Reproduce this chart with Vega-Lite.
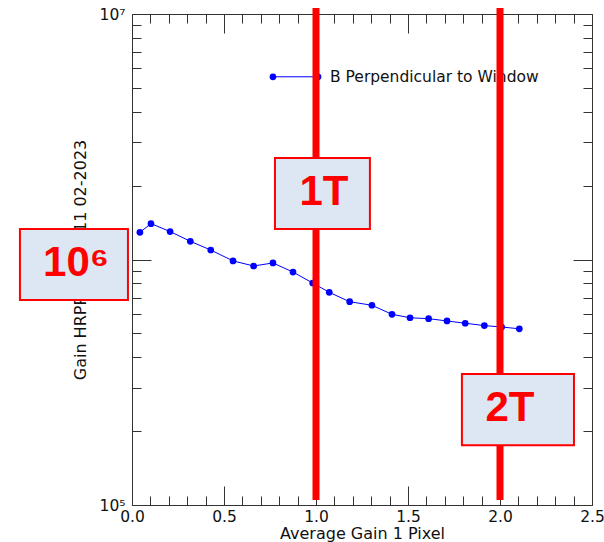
{
  "$schema": "https://vega.github.io/schema/vega-lite/v6.json",
  "width": 460,
  "height": 491,
  "autosize": {"type": "none"},
  "padding": {"left": 132, "top": 14, "right": 12, "bottom": 37},
  "background": "white",
  "config": {
    "view": {"stroke": null},
    "font": "DejaVu Sans",
    "axis": {
      "domainColor": "#333333",
      "domainWidth": 1,
      "tickColor": "#333333",
      "tickWidth": 1,
      "labelColor": "#111111",
      "titleColor": "#111111",
      "labelFont": "DejaVu Sans",
      "titleFont": "DejaVu Sans",
      "labelFontSize": 15.5,
      "titleFontSize": 16,
      "titleFontWeight": "normal",
      "grid": false,
      "labelFlush": false,
      "labelOverlap": false
    }
  },
  "datasets": {
    "gain": [
      {"x": 0.043, "y": 1290000},
      {"x": 0.103, "y": 1400000},
      {"x": 0.207, "y": 1300000},
      {"x": 0.317, "y": 1186000},
      {"x": 0.428, "y": 1093000},
      {"x": 0.549, "y": 987000},
      {"x": 0.661, "y": 941000},
      {"x": 0.766, "y": 968000},
      {"x": 0.875, "y": 889000},
      {"x": 0.982, "y": 802000},
      {"x": 1.072, "y": 735000},
      {"x": 1.183, "y": 673000},
      {"x": 1.304, "y": 651000},
      {"x": 1.413, "y": 598000},
      {"x": 1.511, "y": 579000},
      {"x": 1.612, "y": 574000},
      {"x": 1.712, "y": 562000},
      {"x": 1.811, "y": 550000},
      {"x": 1.915, "y": 538000},
      {"x": 2.009, "y": 531000},
      {"x": 2.105, "y": 522000}
    ],
    "legendKey": [
      {"x": 0.766, "y": 5550000},
      {"x": 1.011, "y": 5550000}
    ],
    "legendText": [
      {"x": 1.076, "y": 5550000, "label": "B Perpendicular to Window"}
    ],
    "field": [
      {"x": 1.0, "ylo": 104800, "yhi": 10580000},
      {"x": 2.0, "ylo": 104800, "yhi": 10580000}
    ],
    "boxes": [
      {"x1": -0.609, "x2": -0.022, "y1": 684000, "y2": 1330000},
      {"x1": 0.777, "x2": 1.293, "y1": 1330000, "y2": 2590000},
      {"x1": 1.793, "x2": 2.402, "y1": 175000, "y2": 342000}
    ],
    "boxText": [
      {"x": -0.304, "y": 966000, "label": "10⁶"},
      {"x": 1.043, "y": 1875000, "label": "1T"},
      {"x": 2.054, "y": 248000, "label": "2T"}
    ]
  },
  "layer": [
    {
      "data": {"name": "gain"},
      "mark": {"type": "line", "color": "#0000ff", "strokeWidth": 1},
      "encoding": {
        "x": {
          "field": "x", "type": "quantitative",
          "scale": {"domain": [0, 2.5], "nice": false, "zero": false},
          "axis": {
            "orient": "bottom",
            "title": "Average Gain 1 Pixel",
            "values": [0, 0.1, 0.2, 0.3, 0.4, 0.5, 0.6, 0.7, 0.8, 0.9, 1.0, 1.1, 1.2, 1.3, 1.4, 1.5, 1.6, 1.7, 1.8, 1.9, 2.0, 2.1, 2.2, 2.3, 2.4, 2.5],
            "labelExpr": "abs(datum.value*2 - round(datum.value*2)) < 1e-6 ? format(datum.value, '.1f') : ''",
            "tickSize": {"condition": {"test": "abs(datum.value*2 - round(datum.value*2)) < 1e-6", "value": -19}, "value": -9},
            "labelPadding": 23,
            "titlePadding": -9
          }
        },
        "y": {
          "field": "y", "type": "quantitative",
          "scale": {"type": "log", "domain": [100000, 10000000], "nice": false},
          "axis": {
            "orient": "left",
            "title": "Gain  HRPPD-1001  11 02-2023",
            "values": [100000, 200000, 300000, 400000, 500000, 600000, 700000, 800000, 900000, 1000000, 2000000, 3000000, 4000000, 5000000, 6000000, 7000000, 8000000, 9000000, 10000000],
            "labelExpr": "datum.value == 10000000 ? '10⁷' : datum.value == 1000000 ? '10⁶' : datum.value == 100000 ? '10⁵' : ''",
            "tickSize": {"condition": {"test": "indexof([100000, 1000000, 10000000], datum.value) >= 0", "value": -19}, "value": -9},
            "labelPadding": 26,
            "titlePadding": 11
          }
        }
      }
    },
    {
      "data": {"name": "gain"},
      "mark": {"type": "circle", "color": "#0000ff", "size": 45, "opacity": 1},
      "encoding": {
        "x": {
          "field": "x", "type": "quantitative",
          "scale": {"domain": [0, 2.5], "nice": false, "zero": false},
          "axis": {
            "orient": "top",
            "title": null,
            "labels": false,
            "values": [0, 0.1, 0.2, 0.3, 0.4, 0.5, 0.6, 0.7, 0.8, 0.9, 1.0, 1.1, 1.2, 1.3, 1.4, 1.5, 1.6, 1.7, 1.8, 1.9, 2.0, 2.1, 2.2, 2.3, 2.4, 2.5],
            "tickSize": {"condition": {"test": "abs(datum.value*2 - round(datum.value*2)) < 1e-6", "value": -19}, "value": -9}
          }
        },
        "y": {
          "field": "y", "type": "quantitative",
          "scale": {"type": "log", "domain": [100000, 10000000], "nice": false},
          "axis": {
            "orient": "right",
            "title": null,
            "labels": false,
            "values": [100000, 200000, 300000, 400000, 500000, 600000, 700000, 800000, 900000, 1000000, 2000000, 3000000, 4000000, 5000000, 6000000, 7000000, 8000000, 9000000, 10000000],
            "tickSize": {"condition": {"test": "indexof([100000, 1000000, 10000000], datum.value) >= 0", "value": -19}, "value": -9}
          }
        }
      }
    },
    {
      "data": {"name": "legendKey"},
      "mark": {"type": "line", "color": "#0000ff", "strokeWidth": 1, "point": {"filled": true, "size": 45, "color": "#0000ff"}},
      "encoding": {
        "x": {"field": "x", "type": "quantitative", "scale": {"domain": [0, 2.5], "nice": false, "zero": false}, "axis": null},
        "y": {"field": "y", "type": "quantitative", "scale": {"type": "log", "domain": [100000, 10000000], "nice": false}, "axis": null}
      }
    },
    {
      "data": {"name": "legendText"},
      "mark": {"type": "text", "align": "left", "baseline": "middle", "fontSize": 15.5, "color": "#111111", "font": "DejaVu Sans"},
      "encoding": {
        "x": {"field": "x", "type": "quantitative", "scale": {"domain": [0, 2.5], "nice": false, "zero": false}, "axis": null},
        "y": {"field": "y", "type": "quantitative", "scale": {"type": "log", "domain": [100000, 10000000], "nice": false}, "axis": null},
        "text": {"field": "label"}
      }
    },
    {
      "data": {"name": "field"},
      "mark": {"type": "rule", "color": "#ff0000", "strokeWidth": 7},
      "encoding": {
        "x": {"field": "x", "type": "quantitative", "scale": {"domain": [0, 2.5], "nice": false, "zero": false}, "axis": null},
        "y": {"field": "ylo", "type": "quantitative", "scale": {"type": "log", "domain": [100000, 10000000], "nice": false}, "axis": null},
        "y2": {"field": "yhi"}
      }
    },
    {
      "data": {"name": "boxes"},
      "mark": {"type": "rect", "fill": "#dde7f3", "stroke": "#ff0000", "strokeWidth": 2},
      "encoding": {
        "x": {"field": "x1", "type": "quantitative", "scale": {"domain": [0, 2.5], "nice": false, "zero": false}, "axis": null},
        "x2": {"field": "x2"},
        "y": {"field": "y1", "type": "quantitative", "scale": {"type": "log", "domain": [100000, 10000000], "nice": false}, "axis": null},
        "y2": {"field": "y2"}
      }
    },
    {
      "data": {"name": "boxText"},
      "mark": {"type": "text", "align": "center", "baseline": "middle", "fontSize": 42, "fontWeight": "bold", "color": "#ff0000", "font": "Liberation Sans"},
      "encoding": {
        "x": {"field": "x", "type": "quantitative", "scale": {"domain": [0, 2.5], "nice": false, "zero": false}, "axis": null},
        "y": {"field": "y", "type": "quantitative", "scale": {"type": "log", "domain": [100000, 10000000], "nice": false}, "axis": null},
        "text": {"field": "label"}
      }
    }
  ],
  "resolve": {"axis": {"x": "independent", "y": "independent"}}
}
